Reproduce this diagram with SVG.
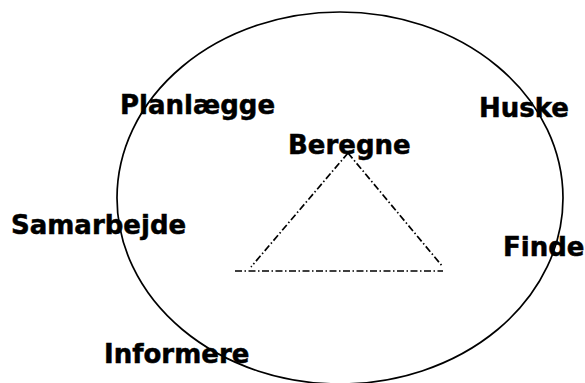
<svg xmlns="http://www.w3.org/2000/svg" width="585" height="383" viewBox="0 0 585 383">
  <style>
    .lbl { font-family: "DejaVu Sans", Verdana, sans-serif; font-weight: bold; font-size: 26px; fill: #000; stroke: #000; stroke-width: 0.5; }
    .dd { stroke: #000; stroke-width: 1.7; fill: none; stroke-dasharray: 7 2.5 1.5 2.5; }
  </style>
  <rect width="585" height="383" fill="#fff"/>
  <g id="circle">
    <ellipse cx="340" cy="198" rx="223" ry="186" fill="none" stroke="#000" stroke-width="1.7"/>
  </g>
  <g id="connectors">
    <line class="dd" x1="348" y1="153" x2="251" y2="267"/>
    <line class="dd" x1="348" y1="153" x2="443" y2="267"/>
    <line class="dd" x1="235" y1="271" x2="443" y2="271"/>
  </g>
  <g id="node-planlaegge"><text class="lbl" x="120" y="114">Planlægge</text></g>
  <g id="node-beregne"><text class="lbl" x="288" y="154">Beregne</text></g>
  <g id="node-huske"><text class="lbl" x="479" y="117">Huske</text></g>
  <g id="node-samarbejde"><text class="lbl" x="11" y="234">Samarbejde</text></g>
  <g id="node-finde"><text class="lbl" x="503" y="256">Finde</text></g>
  <g id="node-informere"><text class="lbl" x="104" y="363">Informere</text></g>
</svg>
